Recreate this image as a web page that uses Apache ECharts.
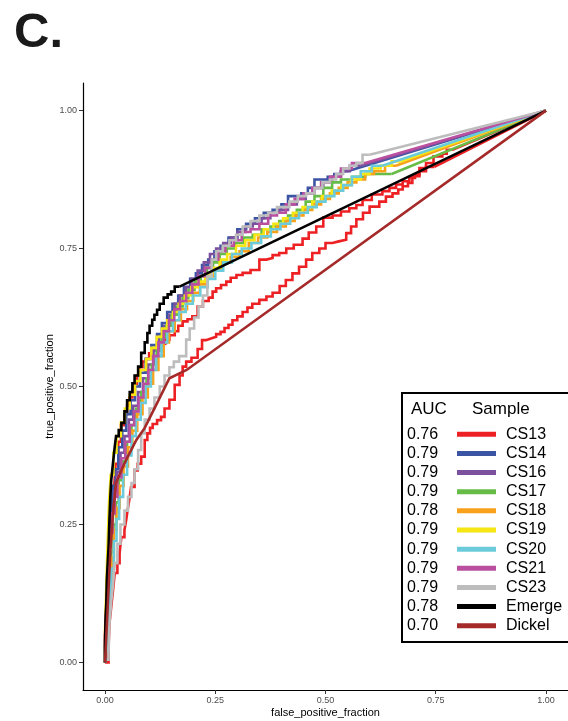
<!DOCTYPE html>
<html>
<head>
<meta charset="utf-8">
<script src="https://cdn.jsdelivr.net/npm/echarts@6/dist/echarts.min.js"></script>
<style>
  html, body { margin: 0; padding: 0; background: #fff; }
  #chart { width: 568px; height: 721px; }
</style>
</head>
<body>
<div id="chart"></div>
<script>
// Legend entries, in drawing order
const sampleNames = ['CS13', 'CS14', 'CS16', 'CS17', 'CS18', 'CS19', 'CS20', 'CS21', 'CS23', 'Emerge', 'Dickel'];
const aucValues = ['0.76', '0.79', '0.79', '0.79', '0.78', '0.79', '0.79', '0.79', '0.79', '0.78', '0.70'];
const lineColors = ['#ED2024', '#3B54A4', '#7B509F', '#67BC47', '#F9A11B', '#F5E614', '#6BCBDA', '#BA4FA0', '#BDBDBD', '#000000', '#A52A2A'];
const tickValues = [0, 0.25, 0.5, 0.75, 1];

// ROC points: [false_positive_fraction, true_positive_fraction]
const cs13 = [[0,0],[0.004,0.05],[0.008,0.12],[0.012,0.19],[0.016,0.25],[0.020,0.29],[0.024,0.31],[0.030,0.36],[0.036,0.40],[0.044,0.43],[0.050,0.45],[0.055,0.465],[0.062,0.48],[0.066,0.49],[0.072,0.505],[0.078,0.52],[0.085,0.535],[0.093,0.545],[0.10,0.55],[0.108,0.56],[0.115,0.565],[0.122,0.57],[0.13,0.575],[0.138,0.578],[0.146,0.585],[0.158,0.593],[0.166,0.60],[0.176,0.61],[0.187,0.618],[0.198,0.622],[0.21,0.627],[0.222,0.645],[0.235,0.655],[0.244,0.661],[0.252,0.672],[0.263,0.678],[0.275,0.684],[0.285,0.69],[0.298,0.697],[0.312,0.702],[0.33,0.706],[0.35,0.711],[0.366,0.730],[0.38,0.733],[0.395,0.738],[0.411,0.742],[0.428,0.75],[0.448,0.757],[0.462,0.768],[0.479,0.779],[0.495,0.79],[0.516,0.806],[0.535,0.81],[0.554,0.817],[0.57,0.823],[0.584,0.829],[0.605,0.838],[0.629,0.848],[0.645,0.854],[0.660,0.860],[0.675,0.866],[0.690,0.872],[0.703,0.878],[0.713,0.884],[0.728,0.896],[0.745,0.905],[0.765,0.917],[0.775,0.922],[0.788,0.929],[1,1]];
const cs13Alt = [[0,0],[0.008,0.0],[0.010,0.03],[0.014,0.07],[0.018,0.10],[0.022,0.13],[0.028,0.162],[0.033,0.18],[0.037,0.198],[0.044,0.227],[0.048,0.24],[0.051,0.258],[0.055,0.275],[0.059,0.294],[0.067,0.318],[0.074,0.348],[0.082,0.36],[0.090,0.373],[0.096,0.403],[0.102,0.415],[0.108,0.425],[0.118,0.432],[0.127,0.439],[0.135,0.445],[0.146,0.46],[0.158,0.476],[0.169,0.503],[0.176,0.52],[0.184,0.536],[0.196,0.545],[0.210,0.552],[0.22,0.568],[0.229,0.584],[0.240,0.587],[0.252,0.590],[0.262,0.595],[0.271,0.599],[0.280,0.606],[0.289,0.612],[0.300,0.62],[0.312,0.627],[0.323,0.635],[0.334,0.643],[0.35,0.65],[0.366,0.657],[0.38,0.663],[0.396,0.670],[0.41,0.682],[0.425,0.693],[0.44,0.705],[0.456,0.717],[0.47,0.73],[0.486,0.742],[0.50,0.75],[0.516,0.760],[0.53,0.763],[0.547,0.766],[0.558,0.778],[0.570,0.790],[0.585,0.803],[0.600,0.815],[0.622,0.826],[0.637,0.835],[0.652,0.844],[0.665,0.85],[0.675,0.857],[0.687,0.863],[0.697,0.869],[0.713,0.881],[0.728,0.890],[0.747,0.898],[1,1]];
const cs14 = [[0,0],[0.004,0.04],[0.007,0.11],[0.010,0.17],[0.014,0.23],[0.018,0.28],[0.024,0.32],[0.030,0.35],[0.039,0.39],[0.048,0.42],[0.058,0.45],[0.068,0.475],[0.079,0.50],[0.092,0.525],[0.105,0.55],[0.118,0.575],[0.129,0.595],[0.141,0.615],[0.153,0.635],[0.166,0.65],[0.179,0.665],[0.193,0.68],[0.206,0.695],[0.22,0.705],[0.234,0.72],[0.248,0.73],[0.262,0.745],[0.28,0.755],[0.30,0.77],[0.32,0.785],[0.34,0.795],[0.36,0.805],[0.38,0.815],[0.40,0.82],[0.415,0.83],[0.43,0.845],[0.445,0.845],[0.46,0.85],[0.475,0.86],[0.49,0.875],[0.505,0.875],[0.52,0.88],[0.535,0.885],[0.55,0.89],[1,1]];
const cs16 = [[0,0],[0.005,0.03],[0.008,0.09],[0.012,0.16],[0.016,0.22],[0.021,0.27],[0.027,0.31],[0.035,0.345],[0.044,0.38],[0.054,0.41],[0.064,0.44],[0.075,0.465],[0.086,0.49],[0.098,0.515],[0.11,0.54],[0.122,0.565],[0.134,0.59],[0.146,0.61],[0.158,0.63],[0.170,0.65],[0.183,0.665],[0.196,0.68],[0.210,0.695],[0.224,0.71],[0.238,0.725],[0.252,0.74],[0.268,0.75],[0.285,0.76],[0.30,0.77],[0.318,0.78],[0.335,0.79],[0.355,0.795],[0.375,0.805],[0.395,0.815],[0.415,0.82],[0.435,0.83],[0.455,0.84],[0.475,0.85],[0.495,0.86],[0.515,0.87],[0.535,0.88],[0.555,0.89],[0.58,0.90],[1,1]];
const cs17 = [[0,0],[0.006,0.03],[0.010,0.08],[0.014,0.14],[0.019,0.20],[0.025,0.25],[0.031,0.29],[0.040,0.33],[0.050,0.365],[0.060,0.40],[0.071,0.43],[0.082,0.46],[0.094,0.49],[0.106,0.515],[0.117,0.54],[0.128,0.565],[0.139,0.59],[0.151,0.61],[0.163,0.63],[0.176,0.645],[0.189,0.66],[0.203,0.675],[0.217,0.69],[0.231,0.70],[0.245,0.715],[0.26,0.725],[0.276,0.74],[0.295,0.75],[0.315,0.76],[0.335,0.77],[0.355,0.775],[0.375,0.785],[0.395,0.79],[0.415,0.80],[0.435,0.81],[0.455,0.82],[0.475,0.835],[0.495,0.845],[0.515,0.86],[0.535,0.87],[0.56,0.875],[0.59,0.88],[0.62,0.885],[0.65,0.885],[1,1]];
const cs18 = [[0,0],[0.006,0.02],[0.010,0.07],[0.015,0.13],[0.020,0.19],[0.026,0.24],[0.033,0.28],[0.042,0.32],[0.052,0.355],[0.062,0.39],[0.073,0.42],[0.085,0.45],[0.097,0.48],[0.109,0.505],[0.121,0.53],[0.133,0.555],[0.145,0.58],[0.158,0.60],[0.172,0.62],[0.186,0.64],[0.20,0.655],[0.215,0.67],[0.231,0.685],[0.248,0.70],[0.266,0.71],[0.285,0.725],[0.305,0.735],[0.326,0.745],[0.347,0.76],[0.368,0.77],[0.39,0.78],[0.41,0.79],[0.43,0.80],[0.45,0.81],[0.47,0.82],[0.49,0.83],[0.51,0.84],[0.53,0.85],[0.55,0.86],[0.57,0.87],[0.59,0.875],[0.61,0.885],[0.635,0.89],[0.66,0.90],[1,1]];
const cs19 = [[0,0],[0.003,0.06],[0.006,0.14],[0.009,0.22],[0.013,0.29],[0.019,0.34],[0.026,0.38],[0.036,0.41],[0.045,0.435],[0.056,0.46],[0.068,0.485],[0.080,0.51],[0.093,0.53],[0.105,0.55],[0.117,0.57],[0.129,0.59],[0.141,0.605],[0.154,0.62],[0.167,0.635],[0.181,0.65],[0.196,0.665],[0.211,0.68],[0.227,0.69],[0.243,0.705],[0.26,0.715],[0.277,0.73],[0.297,0.74],[0.318,0.755],[0.339,0.765],[0.36,0.775],[0.382,0.785],[0.404,0.795],[0.426,0.805],[0.448,0.815],[0.47,0.825],[0.492,0.835],[0.514,0.845],[0.536,0.855],[0.558,0.865],[0.58,0.875],[0.60,0.885],[0.625,0.895],[0.65,0.90],[0.672,0.908],[1,1]];
const cs20 = [[0,0],[0.007,0.02],[0.011,0.07],[0.015,0.12],[0.020,0.17],[0.026,0.22],[0.032,0.26],[0.041,0.30],[0.050,0.34],[0.060,0.375],[0.070,0.41],[0.081,0.44],[0.092,0.47],[0.104,0.50],[0.116,0.53],[0.128,0.555],[0.141,0.58],[0.154,0.60],[0.168,0.62],[0.183,0.635],[0.199,0.65],[0.216,0.665],[0.233,0.68],[0.25,0.695],[0.268,0.71],[0.288,0.725],[0.31,0.74],[0.332,0.75],[0.354,0.76],[0.376,0.772],[0.398,0.785],[0.42,0.795],[0.44,0.805],[0.46,0.815],[0.48,0.825],[0.50,0.835],[0.52,0.845],[0.54,0.855],[0.56,0.865],[0.58,0.88],[0.605,0.89],[0.629,0.90],[1,1]];
const cs21 = [[0,0],[0.004,0.05],[0.008,0.12],[0.012,0.18],[0.017,0.235],[0.022,0.27],[0.028,0.30],[0.037,0.335],[0.046,0.37],[0.056,0.40],[0.066,0.43],[0.076,0.455],[0.087,0.48],[0.098,0.505],[0.109,0.53],[0.121,0.555],[0.133,0.58],[0.145,0.60],[0.157,0.62],[0.170,0.64],[0.184,0.655],[0.198,0.67],[0.212,0.685],[0.227,0.70],[0.242,0.715],[0.257,0.73],[0.273,0.745],[0.292,0.755],[0.31,0.765],[0.33,0.78],[0.35,0.785],[0.37,0.795],[0.39,0.81],[0.41,0.815],[0.43,0.83],[0.45,0.84],[0.47,0.85],[0.49,0.86],[0.51,0.87],[0.535,0.88],[0.56,0.895],[0.59,0.905],[1,1]];
const cs23 = [[0,0],[0.008,0.005],[0.010,0.02],[0.014,0.07],[0.018,0.11],[0.022,0.14],[0.028,0.18],[0.035,0.215],[0.044,0.25],[0.052,0.275],[0.060,0.30],[0.067,0.325],[0.075,0.35],[0.082,0.385],[0.090,0.415],[0.101,0.44],[0.112,0.46],[0.124,0.48],[0.135,0.50],[0.146,0.52],[0.156,0.535],[0.168,0.545],[0.184,0.555],[0.192,0.585],[0.202,0.605],[0.212,0.625],[0.222,0.645],[0.232,0.665],[0.242,0.70],[0.252,0.73],[0.267,0.745],[0.282,0.755],[0.297,0.765],[0.312,0.775],[0.33,0.79],[0.35,0.80],[0.37,0.81],[0.39,0.815],[0.418,0.825],[0.437,0.835],[0.456,0.845],[0.475,0.85],[0.493,0.86],[0.51,0.87],[0.524,0.875],[0.54,0.885],[0.554,0.895],[0.57,0.90],[0.584,0.905],[0.60,0.92],[1,1]];
const emerge = [[0,0],[0.001,0.03],[0.003,0.076],[0.004,0.11],[0.006,0.149],[0.008,0.18],[0.010,0.209],[0.012,0.26],[0.014,0.30],[0.018,0.33],[0.022,0.361],[0.025,0.391],[0.031,0.41],[0.037,0.421],[0.044,0.434],[0.050,0.455],[0.056,0.475],[0.062,0.49],[0.067,0.506],[0.075,0.52],[0.082,0.536],[0.090,0.561],[0.096,0.58],[0.101,0.597],[0.107,0.61],[0.112,0.621],[0.118,0.63],[0.124,0.639],[0.133,0.65],[0.142,0.661],[0.150,0.667],[0.158,0.672],[0.169,0.681],[1,1]];
const dickel = [[0,0],[0.006,0.10],[0.012,0.20],[0.018,0.27],[0.025,0.325],[0.038,0.35],[0.051,0.372],[0.071,0.403],[0.090,0.425],[0.118,0.47],[0.146,0.515],[0.185,0.530],[1,1]];

const curveSets = [
  { name: 'CS13', pts: cs13, stepped: true },
  { name: 'CS13', pts: cs13Alt, stepped: true },
  { name: 'CS14', pts: cs14, stepped: true },
  { name: 'CS16', pts: cs16, stepped: true },
  { name: 'CS17', pts: cs17, stepped: true },
  { name: 'CS18', pts: cs18, stepped: true },
  { name: 'CS19', pts: cs19, stepped: true },
  { name: 'CS20', pts: cs20, stepped: true },
  { name: 'CS21', pts: cs21, stepped: true },
  { name: 'CS23', pts: cs23, stepped: true },
  { name: 'Emerge', pts: emerge, stepped: true },
  { name: 'Dickel', pts: dickel, stepped: false }
];

const FONT = '"Liberation Sans", Arial, Helvetica, sans-serif';
const LINE_W = 2.6;

const series = [];
curveSets.forEach(function (c) {
  const color = lineColors[sampleNames.indexOf(c.name)];
  const base = { type: 'line', showSymbol: false, silent: true, clip: true,
    lineStyle: { color: color, width: LINE_W, join: 'miter' } };
  if (c.stepped) {
    // staircase up to the last threshold, then the straight run to (1, 1)
    series.push(Object.assign({}, base, { name: c.name, data: c.pts.slice(0, -1), step: 'start' }));
    series.push(Object.assign({}, base, { name: c.name, data: c.pts.slice(-2) }));
  } else {
    series.push(Object.assign({}, base, { name: c.name, data: c.pts }));
  }
});

// Legend panel: AUC column, colour key, sample name
const legendX = 402, legendY = 393, rowY0 = 434.3, rowGap = 19.14;
const graphics = [
  { type: 'text', left: 14, top: 9, style: { text: 'C.', font: 'bold 49px ' + FONT, fill: '#1a1a1a' } },
  { type: 'rect', shape: { x: legendX, y: legendY, width: 200, height: 249 },
    style: { fill: '#fff', stroke: '#000', lineWidth: 2 } },
  { type: 'text', x: 411, y: 409, style: { text: 'AUC', font: '17px ' + FONT, fill: '#000', textVerticalAlign: 'middle' } },
  { type: 'text', x: 472, y: 409, style: { text: 'Sample', font: '17px ' + FONT, fill: '#000', textVerticalAlign: 'middle' } }
];
sampleNames.forEach(function (n, i) {
  const y = rowY0 + i * rowGap;
  graphics.push({ type: 'text', x: 407, y: y, style: { text: aucValues[i], font: '16px ' + FONT, fill: '#000', textVerticalAlign: 'middle' } });
  graphics.push({ type: 'rect', shape: { x: 457, y: y - 2.5, width: 39, height: 5 }, style: { fill: lineColors[i] } });
  graphics.push({ type: 'text', x: 506, y: y, style: { text: n, font: '16px ' + FONT, fill: '#000', textVerticalAlign: 'middle' } });
});

const axisCommon = {
  type: 'value', min: -0.05, max: 1.05,
  nameLocation: 'middle',
  nameMoveOverlap: false,
  nameTextStyle: { fontSize: 11, color: '#000', fontFamily: FONT },
  splitLine: { show: false },
  axisLine: { onZero: false, lineStyle: { color: '#000', width: 1.2 } },
  axisTick: { show: true, length: 4, customValues: tickValues, lineStyle: { color: '#333' } },
  axisLabel: { customValues: tickValues, formatter: function (v) { return v.toFixed(2); },
    color: '#4d4d4d', fontSize: 9, margin: 6, fontFamily: FONT }
};

const chart = echarts.init(document.getElementById('chart'), null, { renderer: 'canvas' });
chart.setOption({
  animation: false,
  backgroundColor: '#fff',
  textStyle: { fontFamily: FONT },
  grid: { left: 83, right: 0, top: 83, bottom: 31, containLabel: false, outerBoundsMode: 'none' },
  xAxis: Object.assign({}, axisCommon, { name: 'false_positive_fraction', nameGap: 17 }),
  yAxis: Object.assign({}, axisCommon, { name: 'true_positive_fraction', nameGap: 28 }),
  series: series,
  graphic: graphics
});
</script>
</body>
</html>
